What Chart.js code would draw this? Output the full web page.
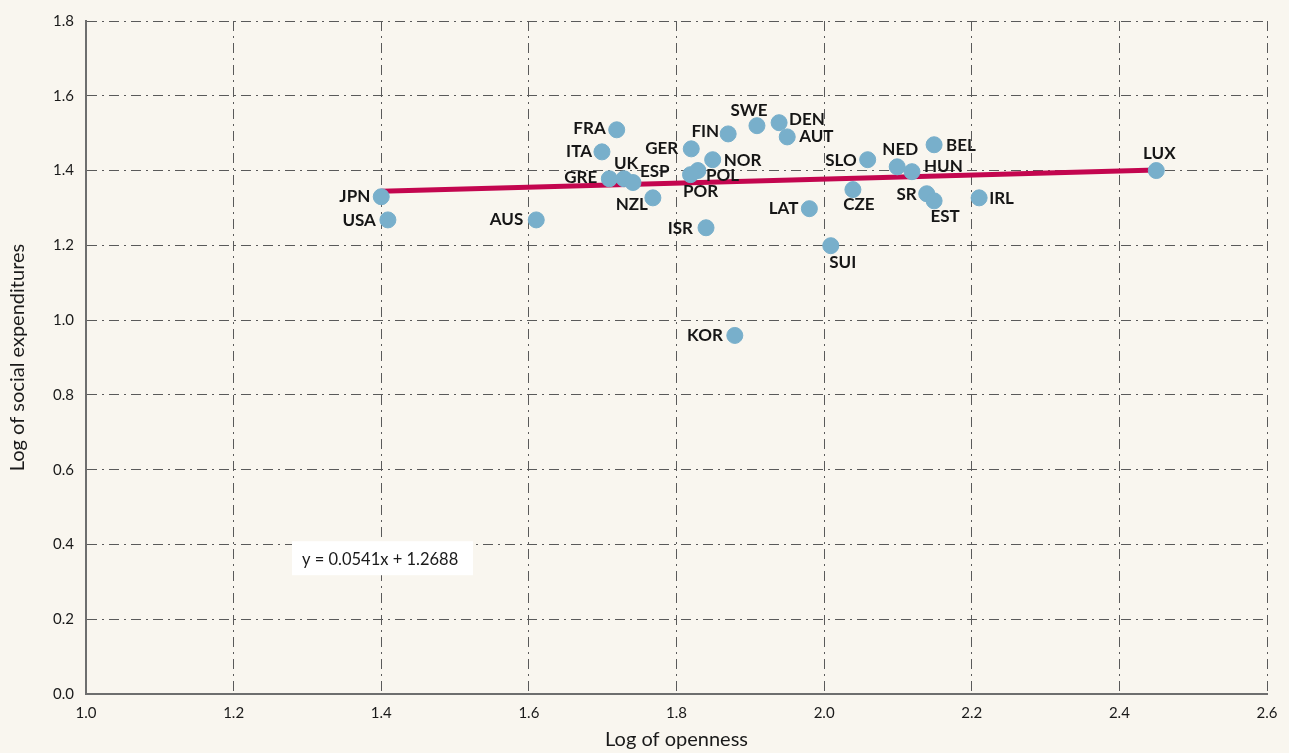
<!DOCTYPE html>
<html>
<head>
<meta charset="utf-8">
<script src="https://cdn.jsdelivr.net/npm/chart.js@4.4.1/dist/chart.umd.min.js"></script>
<style>
  html, body { margin: 0; padding: 0; background: #f9f6ef; }
  #wrap { width: 1289px; height: 753px; }
</style>
</head>
<body>
<div id="wrap"><canvas id="c" width="1289" height="753"></canvas></div>
<script>
// ---- Data ----
const countries = ["JPN","USA","AUS","FRA","ITA","GRE","UK","ESP","NZL","GER","FIN","SWE","DEN","AUT","NOR","POL","POR","ISR","KOR","LAT","SUI","SLO","CZE","NED","HUN","BEL","SR","EST","IRL","LUX"];
const opennessLog = [1.400,1.409,1.610,1.719,1.699,1.709,1.729,1.741,1.768,1.820,1.870,1.909,1.939,1.950,1.849,1.829,1.819,1.840,1.879,1.980,2.009,2.059,2.039,2.099,2.119,2.149,2.139,2.149,2.210,2.450];
const socialExpLog = [1.330,1.268,1.268,1.509,1.450,1.378,1.378,1.368,1.327,1.458,1.498,1.520,1.528,1.490,1.429,1.400,1.389,1.247,0.959,1.298,1.199,1.429,1.349,1.410,1.397,1.469,1.338,1.319,1.327,1.400];
const trendX = [1.40, 2.45];
const trendY = [1.3445, 1.4013];
const xTickValues = [1.0,1.2,1.4,1.6,1.8,2.0,2.2,2.4,2.6];
const yTickValues = [0.0,0.2,0.4,0.6,0.8,1.0,1.2,1.4,1.6,1.8];
const equationText = "y = 0.0541x + 1.2688";

// ---- Label placement (style only): [dx, dy, align] ----
const labelPlacement = {
  JPN:[-11,0,"right"], USA:[-12,1,"right"], AUS:[-13,0,"right"], FRA:[-11,-1,"right"],
  ITA:[-10,0,"right"], GRE:[-12,-1,"right"], UK:[2,-15,"center"], ESP:[7,-11,"left"],
  NZL:[-5,7,"right"], GER:[-13,0,"right"], FIN:[-9,-2,"right"], SWE:[-8,-15,"center"],
  DEN:[10,-3,"left"], AUT:[12,0,"left"], NOR:[11,1,"left"], POL:[8,5,"left"],
  POR:[10,17,"center"], ISR:[-13,1,"right"], KOR:[-12,0,"right"], LAT:[-11,0,"right"],
  SUI:[12,17,"center"], SLO:[-11,1,"right"], CZE:[6,15,"center"], NED:[3,-17,"center"],
  HUN:[12,-5,"left"], BEL:[12,1,"left"], SR:[-10,1,"right"], EST:[11,16,"center"],
  IRL:[10,1,"left"], LUX:[3,-17,"center"]
};

const FONT = "Lato, 'Open Sans', sans-serif";
const GRID = "#5a5a5a";
const DASH = [10,5,2,5];

const bgPlugin = {
  id: 'bg',
  beforeDraw(chart) {
    const ctx = chart.ctx;
    ctx.save();
    ctx.fillStyle = '#f9f6ef';
    ctx.fillRect(0, 0, chart.width, chart.height);
    ctx.restore();
  }
};

const labelPlugin = {
  id: 'pointLabels',
  afterDatasetsDraw(chart) {
    const ctx = chart.ctx;
    const meta = chart.getDatasetMeta(1);
    ctx.save();
    ctx.font = "bold 17px " + FONT;
    ctx.fillStyle = "#161616";
    ctx.textBaseline = "middle";
    meta.data.forEach((el, i) => {
      const name = countries[i];
      const p = labelPlacement[name] || [10,0,"left"];
      ctx.textAlign = p[2];
      ctx.fillText(name, el.x + p[0], el.y + p[1]);
    });
    ctx.restore();
  }
};

const eqPlugin = {
  id: 'equation',
  afterDraw(chart) {
    const a = chart.chartArea;
    const ctx = chart.ctx;
    const w = a.right - a.left, h = a.bottom - a.top;
    const bx = a.left + w * 0.1744, by = a.top + h * 0.7730;
    const bw = 181, bh = 34;
    ctx.save();
    ctx.fillStyle = "#ffffff";
    ctx.fillRect(bx, by, bw, bh);
    ctx.fillStyle = "#1a1a1a";
    ctx.font = "16.5px " + FONT;
    ctx.textAlign = "left";
    ctx.textBaseline = "middle";
    ctx.fillText(equationText, bx + 10, by + bh / 2 + 1);
    ctx.restore();
  }
};

new Chart(document.getElementById('c'), {
  data: {
    datasets: [
      {
        type: 'line',
        label: 'Trend',
        data: trendX.map((x, i) => ({x: x, y: trendY[i]})),
        borderColor: '#c3064f',
        borderWidth: 5,
        pointRadius: 0,
        fill: false,
        order: 2
      },
      {
        type: 'scatter',
        label: 'Countries',
        data: opennessLog.map((x, i) => ({x: x, y: socialExpLog[i]})),
        backgroundColor: '#78afcb',
        borderColor: '#78afcb',
        pointRadius: 8,
        pointHoverRadius: 8,
        order: 1
      }
    ]
  },
  options: {
    responsive: false,
    animation: false,
    devicePixelRatio: 1,
    layout: { padding: { top: 14, right: 22, left: 0, bottom: 0 } },
    plugins: { legend: { display: false }, tooltip: { enabled: false } },
    scales: {
      x: {
        type: 'linear',
        min: 1.0, max: 2.6,
        afterBuildTicks(scale) { scale.ticks = xTickValues.map(v => ({value: v})); },
        afterFit(scale) { scale.height = 59; },
        ticks: {
          callback: v => Number(v).toFixed(1),
          color: '#1a1a1a',
          font: { family: FONT, size: 15 },
          padding: 10,
          maxRotation: 0
        },
        grid: { color: GRID, lineWidth: 1, drawTicks: false },
        border: { display: true, color: '#6e6e6e', width: 2, dash: DASH },
        title: {
          display: true, text: 'Log of openness', color: '#1a1a1a',
          font: { family: FONT, size: 20 }, padding: { top: 0, bottom: 1 }
        }
      },
      y: {
        type: 'linear',
        min: 0.0, max: 1.8,
        afterBuildTicks(scale) { scale.ticks = yTickValues.map(v => ({value: v})); },
        afterFit(scale) { scale.width = 86; },
        ticks: {
          callback: v => Number(v).toFixed(1),
          color: '#1a1a1a',
          font: { family: FONT, size: 15 },
          padding: 12
        },
        grid: { color: GRID, lineWidth: 1, drawTicks: false },
        border: { display: true, color: '#6e6e6e', width: 2, dash: DASH },
        title: {
          display: true, text: 'Log of social expenditures', color: '#1a1a1a',
          font: { family: FONT, size: 20 }, padding: { top: 6, bottom: 0 }
        }
      }
    }
  },
  plugins: [bgPlugin, labelPlugin, eqPlugin]
});
</script>
</body>
</html>
